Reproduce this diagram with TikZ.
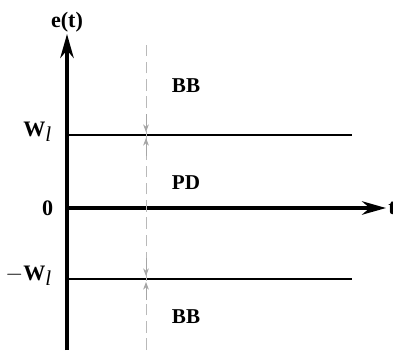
\documentclass[tikz,border=0pt]{standalone}
\usepackage{fontspec}
\setmainfont{Liberation Serif}
\usepackage{tikz}
\usetikzlibrary{arrows.meta, positioning}

\newcommand{\subl}{\raisebox{-2.5pt}{\mdseries\itshape\fontsize{11}{12}\selectfont l}}

\begin{document}
\begin{tikzpicture}[
    x=0.183cm, y=0.183cm,
    axis/.style={line width=1.9pt, -{Stealth[length=12.5pt, width=7pt]}},
    level/.style={line width=1.2pt},
    guide/.style={gray!55, dash pattern=on 6pt off 3pt, line width=0.5pt},
    mark arrow/.style={gray!70, line width=0.4pt, -{Stealth[length=4pt, width=3pt]}},
    lbl/.style={font=\bfseries\fontsize{11.5}{13}\selectfont, inner sep=0pt},
    zone/.style={font=\bfseries\fontsize{11}{13}\selectfont, inner sep=0pt}
]
\useasboundingbox (0,0) rectangle (39.3,35);

% axes
\coordinate (ybot) at (6.7,0);
\coordinate (ytop) at (6.7,31.6);
\coordinate (orig) at (6.7,14.2);
\coordinate (xend) at (38.6,14.2);
\draw[axis] (ybot) -- (ytop);
\draw[axis] (orig) -- (xend);
\node[lbl, above=0.5pt of ytop] (et) {e(t)};
\node[lbl, right=1pt of xend] (tlab) {t};

% boundary layer lines
\coordinate (wup0) at (6.7,21.5);
\coordinate (wup1) at (35.2,21.5);
\coordinate (wlo0) at (6.7,7.1);
\coordinate (wlo1) at (35.2,7.1);
\draw[level] (wup0) -- (wup1);
\draw[level] (wlo0) -- (wlo1);
\node[lbl, left=8pt of wup0, yshift=1.5pt] (wup) {W\subl};
\node[lbl, left=7pt of orig] (zero) {0};
\node[lbl, left=8pt of wlo0, yshift=1.5pt] (wlo) {$-$W\subl};

% dashed guide with markers
\coordinate (gbot) at (14.6,0);
\coordinate (gtop) at (14.6,31);
\draw[guide] (gbot) -- (gtop);
\coordinate (m1a) at (14.6,23.6);
\coordinate (m1b) at (14.6,21.8);
\coordinate (m2a) at (14.6,19.4);
\coordinate (m2b) at (14.6,21.2);
\coordinate (m3a) at (14.6,9.2);
\coordinate (m3b) at (14.6,7.4);
\coordinate (m4a) at (14.6,5.0);
\coordinate (m4b) at (14.6,6.8);
\draw[mark arrow] (m1a) -- (m1b);
\draw[mark arrow] (m2a) -- (m2b);
\draw[mark arrow] (m3a) -- (m3b);
\draw[mark arrow] (m4a) -- (m4b);

% regions
\node[zone] (bbup) at (18.6,26.4) {BB};
\node[zone] (pd) at (18.6,16.7) {PD};
\node[zone] (bblo) at (18.6,3.3) {BB};
\end{tikzpicture}
\end{document}
